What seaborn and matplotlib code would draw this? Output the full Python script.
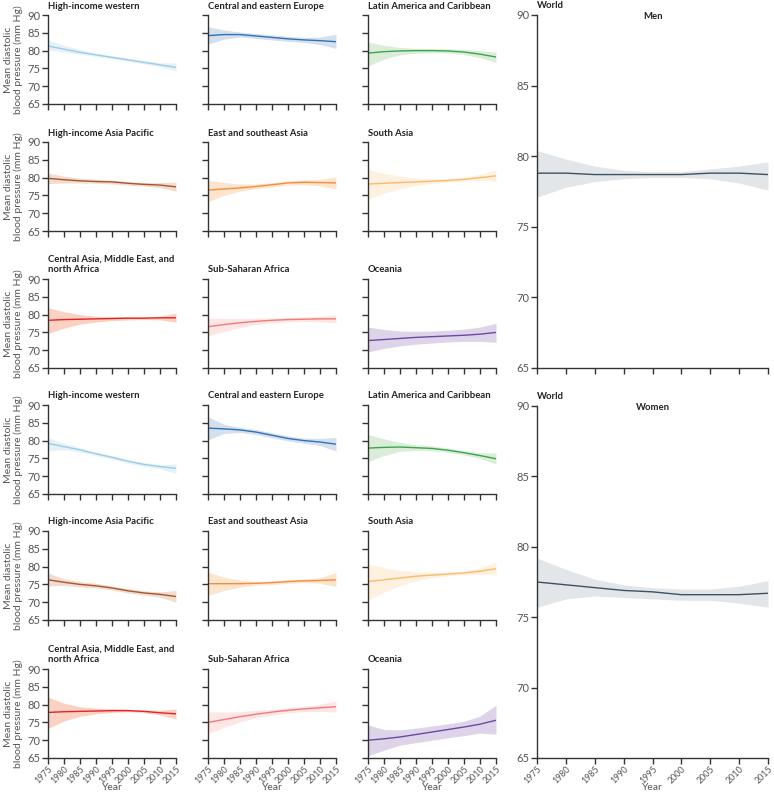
import matplotlib
matplotlib.use("Agg")
import matplotlib.pyplot as plt
import seaborn as sns
import pandas as pd

sns.set_theme(style="ticks")
plt.rcParams['font.family'] = ['Lato', 'DejaVu Sans']

years = [1975, 1980, 1985, 1990, 1995, 2000, 2005, 2010, 2015]

regions = ["High-income western", "Central and eastern Europe", "Latin America and Caribbean",
           "High-income Asia Pacific", "East and southeast Asia", "South Asia",
           "Central Asia, Middle East, and\nnorth Africa", "Sub-Saharan Africa", "Oceania"]

# Men: mean, lower, upper
men_mean = [
    [81.3, 80.4, 79.5, 78.8, 78.1, 77.4, 76.7, 76.0, 75.3],
    [84.2, 84.5, 84.5, 84.1, 83.7, 83.3, 83.0, 82.8, 82.5],
    [79.3, 79.7, 79.9, 80.0, 80.0, 79.9, 79.6, 79.0, 78.2],
    [79.8, 79.4, 79.1, 78.9, 78.8, 78.4, 78.1, 77.9, 77.4],
    [76.5, 76.8, 77.1, 77.5, 78.0, 78.5, 78.7, 78.6, 78.5],
    [78.2, 78.4, 78.6, 78.8, 79.0, 79.2, 79.5, 80.0, 80.5],
    [78.4, 78.6, 78.7, 78.8, 78.9, 79.0, 79.0, 79.1, 79.1],
    [76.6, 77.2, 77.7, 78.1, 78.4, 78.6, 78.7, 78.8, 78.8],
    [72.7, 73.0, 73.3, 73.6, 73.8, 74.0, 74.2, 74.5, 75.0],
]
men_lo = [
    [80.2, 79.6, 79.0, 78.4, 77.7, 77.0, 76.3, 75.5, 74.3],
    [81.8, 83.2, 83.8, 83.4, 83.0, 82.6, 82.3, 81.7, 80.6],
    [75.7, 77.6, 78.8, 79.3, 79.4, 79.3, 78.9, 78.0, 76.7],
    [78.3, 78.5, 78.5, 78.4, 78.2, 77.9, 77.6, 77.2, 76.2],
    [73.3, 75.0, 76.2, 76.9, 77.4, 77.9, 78.0, 77.7, 76.8],
    [74.0, 75.6, 76.9, 77.8, 78.4, 78.7, 79.0, 79.3, 79.0],
    [74.7, 76.2, 77.3, 77.9, 78.3, 78.5, 78.6, 78.5, 77.9],
    [74.0, 75.3, 76.4, 77.2, 77.7, 78.0, 78.1, 78.0, 77.7],
    [69.5, 70.5, 71.2, 71.7, 72.0, 72.3, 72.5, 72.5, 72.2],
]
men_hi = [
    [83.0, 81.5, 80.3, 79.3, 78.6, 77.9, 77.2, 76.6, 76.5],
    [86.7, 85.8, 85.2, 84.8, 84.4, 84.0, 83.7, 83.8, 84.6],
    [82.4, 81.5, 80.9, 80.6, 80.6, 80.5, 80.3, 80.0, 79.6],
    [81.3, 80.4, 79.8, 79.5, 79.3, 78.9, 78.6, 78.6, 78.7],
    [79.3, 78.6, 78.2, 78.2, 78.6, 79.1, 79.4, 79.5, 80.2],
    [82.2, 81.2, 80.4, 79.9, 79.6, 79.7, 80.1, 80.9, 82.2],
    [81.9, 80.8, 80.0, 79.5, 79.4, 79.4, 79.4, 79.6, 80.4],
    [79.0, 78.9, 78.9, 79.0, 79.1, 79.2, 79.3, 79.5, 79.9],
    [76.5, 75.8, 75.4, 75.3, 75.4, 75.6, 75.9, 76.5, 77.6],
]
women_mean = [
    [79.2, 78.3, 77.4, 76.3, 75.3, 74.2, 73.3, 72.7, 72.2],
    [83.5, 83.3, 83.0, 82.4, 81.5, 80.6, 80.0, 79.6, 79.0],
    [77.9, 78.1, 78.2, 78.0, 77.8, 77.3, 76.6, 75.8, 74.9],
    [76.3, 75.6, 75.0, 74.6, 74.0, 73.2, 72.6, 72.2, 71.6],
    [75.2, 75.2, 75.2, 75.3, 75.5, 75.8, 76.0, 76.1, 76.3],
    [75.8, 76.3, 76.8, 77.3, 77.6, 77.9, 78.2, 78.7, 79.4],
    [77.8, 78.0, 78.1, 78.2, 78.3, 78.3, 78.1, 77.7, 77.4],
    [75.0, 75.8, 76.6, 77.3, 77.9, 78.4, 78.8, 79.1, 79.4],
    [70.0, 70.4, 70.9, 71.6, 72.3, 73.0, 73.7, 74.5, 75.6],
]
women_lo = [
    [77.2, 77.5, 76.8, 75.8, 74.8, 73.7, 72.8, 72.1, 70.8],
    [80.2, 82.0, 82.3, 81.7, 80.8, 79.9, 79.3, 78.6, 77.1],
    [74.1, 75.8, 77.0, 77.3, 77.2, 76.7, 76.0, 75.0, 73.4],
    [74.6, 74.7, 74.3, 74.0, 73.4, 72.6, 72.0, 71.4, 70.0],
    [71.9, 73.3, 74.2, 74.8, 75.0, 75.3, 75.5, 75.3, 74.4],
    [70.5, 72.8, 74.7, 76.0, 76.9, 77.4, 77.7, 77.9, 77.6],
    [73.3, 75.4, 76.7, 77.4, 77.8, 78.0, 77.7, 77.1, 76.0],
    [71.9, 73.6, 75.2, 76.3, 77.1, 77.7, 78.0, 78.1, 77.9],
    [65.6, 67.2, 68.6, 69.3, 70.0, 70.7, 71.3, 72.0, 71.7],
]
women_hi = [
    [80.8, 79.2, 78.0, 76.8, 75.8, 74.7, 73.8, 73.3, 73.4],
    [86.7, 84.6, 83.7, 83.1, 82.2, 81.3, 80.7, 80.6, 80.9],
    [81.7, 80.5, 79.5, 78.8, 78.5, 77.9, 77.2, 76.6, 76.5],
    [78.2, 76.6, 75.8, 75.3, 74.6, 73.8, 73.2, 72.9, 73.3],
    [78.5, 77.0, 76.2, 75.8, 76.0, 76.3, 76.5, 76.9, 78.3],
    [80.8, 79.7, 78.9, 78.5, 78.3, 78.5, 78.8, 79.6, 81.2],
    [82.1, 80.4, 79.4, 79.0, 78.9, 78.7, 78.5, 78.4, 78.8],
    [78.0, 77.9, 78.0, 78.4, 78.7, 79.1, 79.5, 80.1, 81.0],
    [74.3, 73.0, 72.9, 73.4, 74.0, 74.6, 75.3, 76.8, 79.8],
]

world_men_mean = [78.8, 78.8, 78.7, 78.7, 78.7, 78.7, 78.8, 78.8, 78.7]
world_men_lo = [77.1, 77.8, 78.2, 78.4, 78.5, 78.5, 78.4, 78.1, 77.6]
world_men_hi = [80.4, 79.8, 79.3, 79.0, 78.9, 78.9, 79.1, 79.3, 79.6]
world_women_mean = [77.5, 77.3, 77.1, 76.9, 76.8, 76.6, 76.6, 76.6, 76.7]
world_women_lo = [75.7, 76.3, 76.5, 76.4, 76.3, 76.2, 76.2, 76.0, 75.7]
world_women_hi = [79.2, 78.4, 77.7, 77.3, 77.1, 77.0, 77.0, 77.2, 77.6]

line_colors = ['#9fcbe6', '#2c74b5', '#3ba54c', '#a9552f', '#f28f3e', '#fdb96a',
               '#e2242a', '#f27a7c', '#6a4aa0']
fill_colors = ['#e4f1f9', '#d6dfee', '#dbedd8', '#f0ddcf', '#fde4cd', '#fef1df',
               '#fbd1c2', '#fde6e3', '#ddd4ea']
world_line = '#3e5161'
world_fill = '#e3e6e9'

W, H = 774, 793
fig = plt.figure(figsize=(W / 100, H / 100), dpi=100)

def px_axes(left, top, width, height):
    return fig.add_axes([left / W, 1 - (top + height) / H, width / W, height / H])

TEXT = '#222222'
TICKC = '#555555'
YEAR_Y = 788  # pixel row of the 'Year' label centre

def style(ax, ylabels, xlabels, yticks, bottom_px, height_px):
    ax.set_xlim(1975, 2015)
    ax.set_ylim(65, 90)
    ax.set_xticks(years)
    ax.set_yticks(yticks)
    for s in ['top', 'right']:
        ax.spines[s].set_visible(False)
    for s in ['left', 'bottom']:
        ax.spines[s].set_color('#333333')
        ax.spines[s].set_linewidth(1.0)
    ax.tick_params(axis='both', direction='out', length=4, width=1.0, color='#333333',
                   labelsize=8, labelcolor=TICKC, pad=1.5)
    ax.tick_params(axis='x', pad=1)
    if not ylabels:
        ax.set_yticklabels([])
    if xlabels:
        ax.set_xticklabels([str(y) for y in years], rotation=45, ha='right',
                           rotation_mode='anchor', fontsize=6.4)
        ax.set_xlabel('Year', fontsize=7.5, color=TICKC)
        ax.xaxis.label.set_va('center')
        ax.xaxis.set_label_coords(0.5, -(YEAR_Y - bottom_px) / height_px)
    else:
        ax.set_xticklabels([])
        ax.set_xlabel('')
    ax.set_ylabel('')
    ax.grid(False)

def draw(ax, mean, lo, hi, lc, fc):
    df = pd.DataFrame({'Year': years, 'mean': mean, 'lo': lo, 'hi': hi})
    ax.fill_between(df['Year'], df['lo'], df['hi'], color=fc, linewidth=0, zorder=1)
    sns.lineplot(data=df, x='Year', y='mean', ax=ax, color=lc, linewidth=1.0, zorder=2)

col_left = [48, 208, 368]
row_top = [15, 142, 279, 405, 531, 669]
AW, AH = 128, 89
TFS = 6.8

for sex in range(2):
    means = men_mean if sex == 0 else women_mean
    los = men_lo if sex == 0 else women_lo
    his = men_hi if sex == 0 else women_hi
    for i in range(9):
        r, c = divmod(i, 3)
        rr = sex * 3 + r
        ax = px_axes(col_left[c], row_top[rr], AW, AH)
        draw(ax, means[i], los[i], his[i], line_colors[i], fill_colors[i])
        style(ax, ylabels=(c == 0), xlabels=(rr == 5), yticks=[65, 70, 75, 80, 85, 90],
              bottom_px=row_top[rr] + AH, height_px=AH)
        ax.text(0, 1.0 + 4.5 / AH, regions[i], transform=ax.transAxes,
                ha='left', va='bottom', fontsize=TFS, fontweight='bold', color=TEXT,
                linespacing=1.25)
        if c == 0:
            ax.set_ylabel('Mean diastolic\nblood pressure (mm Hg)', fontsize=7.5,
                          color=TICKC, labelpad=3, linespacing=1.1)

# World panels
for sex in range(2):
    top = 15 if sex == 0 else 406
    hgt = 353 if sex == 0 else 352
    ax = px_axes(537, top, 231, hgt)
    if sex == 0:
        draw(ax, world_men_mean, world_men_lo, world_men_hi, world_line, world_fill)
    else:
        draw(ax, world_women_mean, world_women_lo, world_women_hi, world_line, world_fill)
    style(ax, ylabels=True, xlabels=(sex == 1), yticks=[65, 70, 75, 80, 85, 90],
          bottom_px=top + hgt, height_px=hgt)
    ax.text(0, 1.0 + 4.5 / hgt, 'World', transform=ax.transAxes, ha='left', va='bottom',
            fontsize=TFS, fontweight='bold', color=TEXT)
    ax.text(0.5, 1.0 - 1.5 / hgt, 'Men' if sex == 0 else 'Women', transform=ax.transAxes,
            ha='center', va='center', fontsize=TFS, fontweight='bold', color=TEXT)

fig.savefig('out.png', dpi=100)
